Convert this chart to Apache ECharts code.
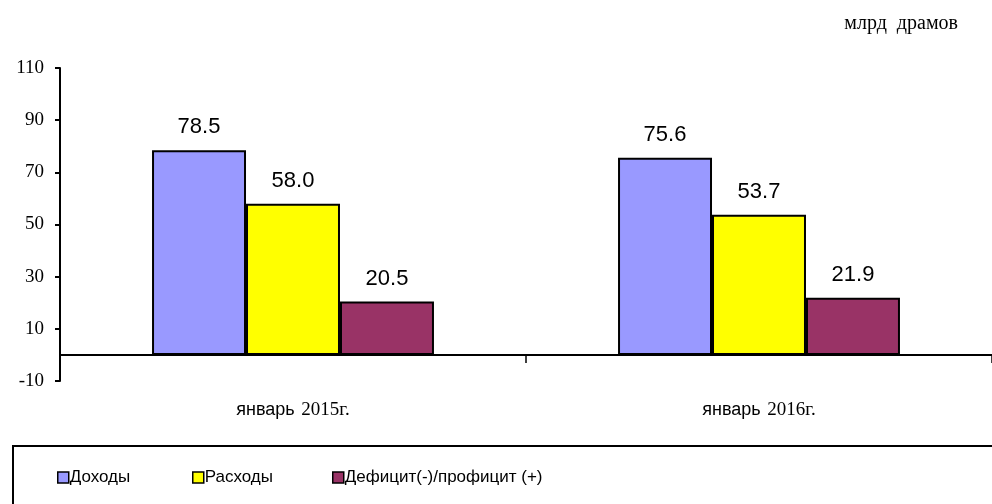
<!DOCTYPE html>
<html>
<head>
<meta charset="utf-8">
<script src="https://cdn.jsdelivr.net/npm/echarts@6/dist/echarts.min.js"></script>
<style>
  html, body { margin: 0; padding: 0; background: #fff; }
  #chart { width: 992px; height: 504px; }
</style>
</head>
<body>
<div id="chart"></div>
<script>
// данные
const categories = ['январь 2015г.', 'январь 2016г.']
const seriesNames = ['Доходы', 'Расходы', 'Дефицит(-)/профицит (+)']
const income = [78.5, 75.6]
const expenses = [58.0, 53.7]
const deficit = [20.5, 21.9]
const colors = ['#9999ff', '#ffff00', '#993366']

const serif = '"Liberation Serif", "DejaVu Serif", serif'
const sans = '"Liberation Sans", Arial, sans-serif'

function makeSeries (name, data, color) {
  return {
    name: name,
    type: 'bar',
    barGap: 0,
    barCategoryGap: '39.5%',
    data: data,
    itemStyle: { color: color, borderColor: '#000', borderWidth: 2 },
    label: {
      show: true,
      position: 'top',
      distance: 12,
      fontFamily: sans,
      fontSize: 22,
      color: '#000',
      formatter: p => p.value.toFixed(1)
    }
  }
}

const legendBase = {
  top: 464,
  itemWidth: 11,
  itemHeight: 11,
  itemGap: 2,
  icon: 'rect',
  itemStyle: { borderColor: '#000', borderWidth: 1.5 },
  textStyle: { fontFamily: sans, fontSize: 17, color: '#000', padding: [0, 0, 0, -4] }
}

const option = {
  animation: false,
  grid: { left: 60, right: -2, top: 68, bottom: 123 },
  legend: [
    Object.assign({}, legendBase, { left: 52, data: [seriesNames[0]] }),
    Object.assign({}, legendBase, { left: 187, data: [seriesNames[1]] }),
    Object.assign({}, legendBase, { left: 327, data: [seriesNames[2]] })
  ],
  graphic: [
    {
      type: 'rect',
      shape: { x: 13, y: 446, width: 990, height: 70 },
      style: { fill: 'none', stroke: '#000', lineWidth: 2 }
    },
    {
      type: 'text',
      right: 34,
      top: 14,
      style: { text: 'млрд  драмов', font: '20px ' + serif, fill: '#000' }
    }
  ],
  xAxis: [
    {
      type: 'category',
      data: categories,
      axisLine: { onZero: true, lineStyle: { color: '#000', width: 2 } },
      axisTick: { show: true, length: 8, lineStyle: { color: '#000', width: 1.5 } },
      axisLabel: { show: false }
    },
    {
      type: 'category',
      data: categories,
      position: 'bottom',
      axisLine: { show: false, onZero: false },
      axisTick: { show: false },
      axisLabel: {
        margin: 20,
        formatter: v => {
          const parts = v.split(' ')
          return '{a|' + parts[0] + '}  {b|' + parts[1] + '}'
        },
        rich: {
          a: { fontFamily: sans, fontSize: 18, color: '#000' },
          b: { fontFamily: serif, fontSize: 19, color: '#000' }
        }
      }
    }
  ],
  yAxis: {
    type: 'value',
    min: -10,
    max: 110,
    interval: 20,
    splitLine: { show: false },
    axisLine: { show: true, onZero: false, lineStyle: { color: '#000', width: 2 } },
    axisTick: { show: true, length: 5, lineStyle: { color: '#000', width: 2 } },
    axisLabel: { fontFamily: serif, fontSize: 19, color: '#000', margin: 16 }
  },
  series: [
    makeSeries(seriesNames[0], income, colors[0]),
    makeSeries(seriesNames[1], expenses, colors[1]),
    makeSeries(seriesNames[2], deficit, colors[2])
  ]
}

const myChart = echarts.init(document.getElementById('chart'))
myChart.setOption(option)
</script>
</body>
</html>
